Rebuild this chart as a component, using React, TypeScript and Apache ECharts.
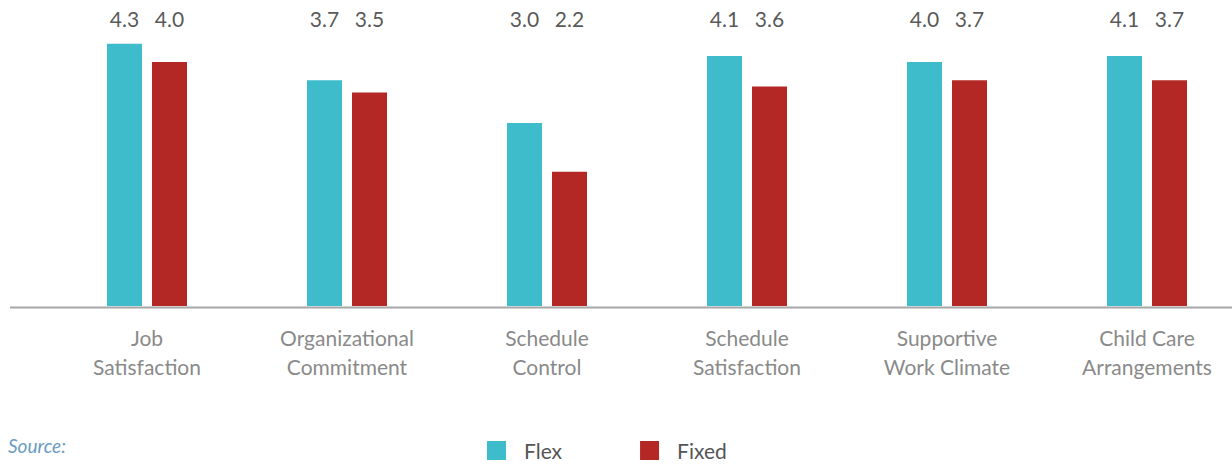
import React, { useEffect, useRef } from "react";
import * as echarts from "echarts";

const categories = [
  "Job\nSatisfaction",
  "Organizational\nCommitment",
  "Schedule\nControl",
  "Schedule\nSatisfaction",
  "Supportive\nWork Climate",
  "Child Care\nArrangements",
];
const flexValues = [4.3, 3.7, 3.0, 4.1, 4.0, 4.1];
const fixedValues = [4.0, 3.5, 2.2, 3.6, 3.7, 3.7];
const seriesNames = ["Flex", "Fixed"];

const TEAL = "#3ebccb";
const RED = "#b32824";
const FONT = "Lato";
const LABEL_LEVEL = 4.72;

export default function App() {
  const ref = useRef<HTMLDivElement>(null);
  useEffect(() => {
    document.body.style.margin = "0";
    const chart = echarts.init(ref.current!, undefined, { renderer: "svg" });
    const labelSeries = (vals: number[], dx: number, name: string) => ({
      type: "scatter",
      name,
      data: vals.map((v, i) => [i, LABEL_LEVEL, v]),
      symbolSize: 1,
      itemStyle: { color: "rgba(0,0,0,0)" },
      silent: true,
      label: {
        show: true,
        position: "inside",
        offset: [dx, 0],
        formatter: (p: any) => p.value[2].toFixed(1),
        color: "#2b2b2b",
        fontSize: 21,
        fontFamily: FONT,
      },
    });
    chart.setOption({
      animation: false,
      textStyle: { fontFamily: FONT },
      title: {
        text: "Source:",
        left: 8,
        top: 436,
        padding: 0,
        textStyle: {
          fontStyle: "italic",
          fontWeight: "normal",
          color: "#6a9cc2",
          fontSize: 19,
          fontFamily: FONT,
        },
      },
      legend: {
        data: seriesNames,
        left: 487,
        top: 440,
        padding: 0,
        itemWidth: 19,
        itemHeight: 19,
        itemGap: 78,
        icon: "rect",
        textStyle: {
          fontSize: 21,
          color: "#555555",
          fontFamily: FONT,
          padding: [2, 0, 0, 13],
        },
      },
      grid: { left: 47, top: 1, width: 1200, height: 305, outerBoundsMode: "none", containLabel: false },
      xAxis: {
        type: "category",
        data: categories,
        axisLine: { show: false },
        axisTick: { show: false },
        axisLabel: {
          interval: 0,
          color: "#8a8a8a",
          fontSize: 21,
          lineHeight: 29,
          margin: 17,
          fontFamily: FONT,
        },
      },
      yAxis: {
        type: "value",
        min: 0,
        max: 5,
        show: false,
        splitLine: { show: false },
      },
      graphic: [
        {
          type: "line",
          shape: { x1: 10, y1: 307.5, x2: 1232, y2: 307.5 },
          style: { stroke: "#a6a6a6", lineWidth: 2 },
          z: 10,
        },
      ],
      series: [
        {
          type: "bar",
          name: seriesNames[0],
          data: flexValues,
          barWidth: 35,
          barGap: "28.57%",
          itemStyle: { color: TEAL },
        },
        {
          type: "bar",
          name: seriesNames[1],
          data: fixedValues,
          barWidth: 35,
          itemStyle: { color: RED },
        },
        labelSeries(flexValues, -22.5, "flexLabels"),
        labelSeries(fixedValues, 22.5, "fixedLabels"),
      ],
    });
    return () => chart.dispose();
  }, []);
  return <div ref={ref} style={{ width: 1232, height: 466 }} />;
}
